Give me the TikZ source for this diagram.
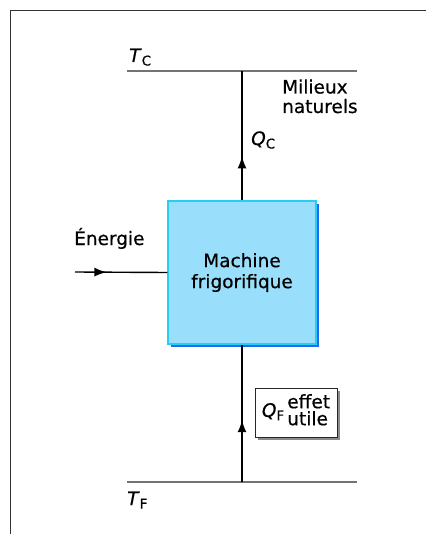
\documentclass[tikz,border=0pt]{standalone}
\usepackage{fontspec}
\setmainfont{DejaVu Sans}[FakeBold=0.5]
\usetikzlibrary{arrows.meta, positioning, shadows, decorations.markings}
\definecolor{fondmachine}{RGB}{153,222,250}
\definecolor{bordmachine}{RGB}{40,205,245}
\definecolor{ombremachine}{RGB}{30,105,240}
\newcommand{\indice}[1]{\raisebox{-0.35ex}{\fontsize{13.5}{14}\selectfont #1}}

\begin{document}
\begin{tikzpicture}[x=1pt, y=-1pt,
            font=\fontsize{18.5}{21}\selectfont,
            machine/.style={rectangle, draw=bordmachine, line width=1.3pt, fill=fondmachine, minimum width=148pt, minimum height=143pt, align=center,
                drop shadow={shadow xshift=3pt, shadow yshift=-3pt, fill=ombremachine, opacity=1}},
            cadreQ/.style={rectangle, draw=black!85, line width=1pt, fill=white, minimum width=82pt, minimum height=49pt, inner sep=1pt,
                drop shadow={shadow xshift=3pt, shadow yshift=-3pt, fill=black!45, opacity=1}},
            niveau/.style={draw=black!55, line width=2.4pt},
            flux/.style={draw, line width=1.4pt, postaction=decorate,
                decoration={markings, mark=at position #1 with {\arrow{Latex[length=12pt,width=9pt]}}}}]

            \useasboundingbox (0,0) rectangle (426,534);
            \draw[line width=1pt, black!80] (10,534) -- (10,11) -- (426,11);

            \node[machine] (mach) at (242,272.5) {Machine\\frigorifique};

            \coordinate (tcg) at (127,71);
            \coordinate (tcd) at (357,71);
            \coordinate (tcm) at (242,71);
            \coordinate (tfg) at (127,482);
            \coordinate (tfd) at (357,482);
            \coordinate (tfm) at (242,482);
            \coordinate (ene) at (75,272);

            \draw[niveau] (tcg) -- (tcd);
            \draw[niveau] (tfg) -- (tfd);

            \draw[flux=0.34] (mach.north) -- (tcm);
            \draw[flux=0.45] (tfm) -- (mach.south);
            \draw[flux=0.34] (ene) -- (mach.west);

            \node[anchor=base west, inner sep=0pt] (tc) at (129,62) {\textit{T}\indice{C}};
            \node[anchor=base west, inner sep=0pt] (tf) at (127,505) {\textit{T}\indice{F}};
            \node[anchor=base west, inner sep=0pt] (qc) at (251,145) {\textit{Q}\indice{C}};
            \node[anchor=base west, align=left, inner sep=0pt, font=\fontsize{18.5}{19.5}\selectfont] (mil) at (282,113) {Milieux\\naturels};
            \node[anchor=base west, inner sep=0pt] (nrj) at (74,245) {Énergie};

            \node[cadreQ] (qf) at (296,412.5) {\textit{Q}\indice{F}\,\begin{tabular}{@{}l@{}}effet\\[-4pt]utile\end{tabular}};
        \end{tikzpicture}
\end{document}
